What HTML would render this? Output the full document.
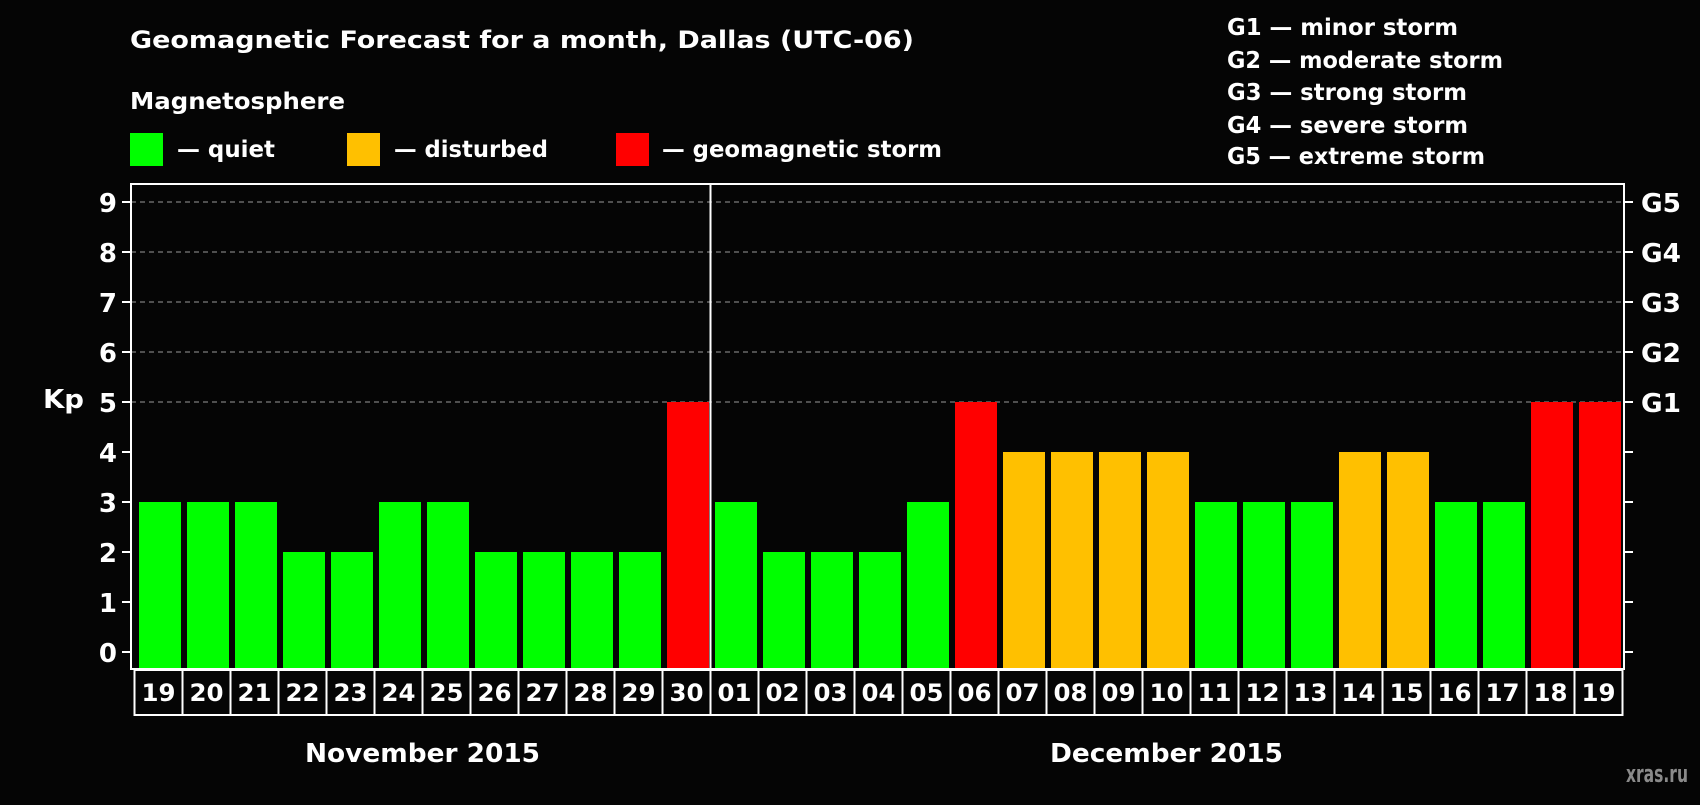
<!DOCTYPE html>
<html><head><meta charset="utf-8"><style>
body{margin:0;background:#050505;}
svg text{font-family:"DejaVu Sans","Liberation Sans",sans-serif;font-weight:bold;fill:#fff;}
</style></head><body>
<svg width="1700" height="800" xmlns="http://www.w3.org/2000/svg">
<rect width="1700" height="800" fill="#050505"/>
<text x="130" y="48" font-size="24" textLength="784" lengthAdjust="spacingAndGlyphs">Geomagnetic Forecast for a month, Dallas (UTC-06)</text>
<text x="130" y="109" font-size="23" textLength="215" lengthAdjust="spacingAndGlyphs">Magnetosphere</text>
<g>
<rect x="130" y="133" width="33" height="33" fill="#00ff00"/>
<text x="177" y="157" font-size="23" textLength="98" lengthAdjust="spacingAndGlyphs">— quiet</text>
<rect x="347" y="133" width="33" height="33" fill="#ffc000"/>
<text x="394" y="157" font-size="23" textLength="154" lengthAdjust="spacingAndGlyphs">— disturbed</text>
<rect x="616" y="133" width="33" height="33" fill="#ff0000"/>
<text x="662" y="157" font-size="23" textLength="280" lengthAdjust="spacingAndGlyphs">— geomagnetic storm</text>
</g>
<g font-size="23">
<text x="1227" y="35" textLength="231" lengthAdjust="spacingAndGlyphs">G1 — minor storm</text>
<text x="1227" y="68" textLength="276" lengthAdjust="spacingAndGlyphs">G2 — moderate storm</text>
<text x="1227" y="100" textLength="240" lengthAdjust="spacingAndGlyphs">G3 — strong storm</text>
<text x="1227" y="133" textLength="241" lengthAdjust="spacingAndGlyphs">G4 — severe storm</text>
<text x="1227" y="164" textLength="258" lengthAdjust="spacingAndGlyphs">G5 — extreme storm</text>
</g>
<text x="43" y="408" font-size="26" textLength="41" lengthAdjust="spacingAndGlyphs">Kp</text>
<g id="grid"></g>
<g id="bars"></g>
<g id="axes"></g>
<text x="305" y="762" font-size="26" textLength="235" lengthAdjust="spacingAndGlyphs">November 2015</text>
<text x="1050" y="762" font-size="26" textLength="233" lengthAdjust="spacingAndGlyphs">December 2015</text>
<text x="1626" y="782" font-size="24" textLength="62" lengthAdjust="spacingAndGlyphs" style="fill:#8a8a8a">xras.ru</text>
</svg>
<script>
const days = ["19","20","21","22","23","24","25","26","27","28","29","30","01","02","03","04","05","06","07","08","09","10","11","12","13","14","15","16","17","18","19"];
const kpValues = [3,3,3,2,2,3,3,2,2,2,2,5,3,2,2,2,3,5,4,4,4,4,3,3,3,4,4,3,3,5,5];
const yTicks = [0,1,2,3,4,5,6,7,8,9];
const gLabels = ["G1","G2","G3","G4","G5"];
const gLevels = [5,6,7,8,9];
const NS="http://www.w3.org/2000/svg";
const L=131,R=1624,T=184,B=669,y0=652,unit=50,x0=134.5,pitch=48;
const y=v=>y0-v*unit;
const x=i=>x0+i*pitch;
function mk(tag,attrs,parent){const e=document.createElementNS(NS,tag);for(const k in attrs)e.setAttribute(k,attrs[k]);parent.appendChild(e);return e;}
const grid=document.getElementById('grid'),bars=document.getElementById('bars'),axes=document.getElementById('axes');
yTicks.forEach(v=>{
  if(v>=5){const g=mk('line',{x1:L,x2:R,y1:y(v),y2:y(v),stroke:'#999','stroke-width':1,'stroke-dasharray':'5,4'},grid);
  
  }
  const t1=mk('line',{x1:L-9,x2:L,y1:y(v),y2:y(v),stroke:'#fff','stroke-width':2},axes);
  
  
  const t2=mk('line',{x1:R,x2:R+9,y1:y(v),y2:y(v),stroke:'#fff','stroke-width':2},axes);
  
  
  const tl=mk('text',{x:117,y:y(v)+10,'font-size':26,'text-anchor':'end'},axes);tl.textContent=v;
  
  
});
gLabels.forEach((g,i)=>{
  const t=mk('text',{x:1641,y:y(gLevels[i])+10,'font-size':26,textLength:40,lengthAdjust:'spacingAndGlyphs'},axes);t.textContent=g;
  
  
});
const col=v=>v>=5?'#ff0000':(v>=4?'#ffc000':'#00ff00');
kpValues.forEach((v,i)=>{
  const b=mk('rect',{x:x(i)+4.5,y:y(v),width:42,height:B-y(v),fill:col(v)},bars);
  
  
  const box=mk('rect',{x:x(i),y:670,width:pitch,height:45,fill:'none',stroke:'#fff','stroke-width':2},axes);
  
  
  const t=mk('text',{x:x(i)+7,y:701,'font-size':24,textLength:34,lengthAdjust:'spacingAndGlyphs'},axes);t.textContent=days[i];
  
  
});
const f=mk('rect',{x:L,y:T,width:R-L,height:B-T,fill:'none',stroke:'#fff','stroke-width':2},axes);


const sx=x(12);
const s=mk('line',{x1:sx,x2:sx,y1:T,y2:716,stroke:'#fff','stroke-width':2},axes);


</script>
</body></html>
